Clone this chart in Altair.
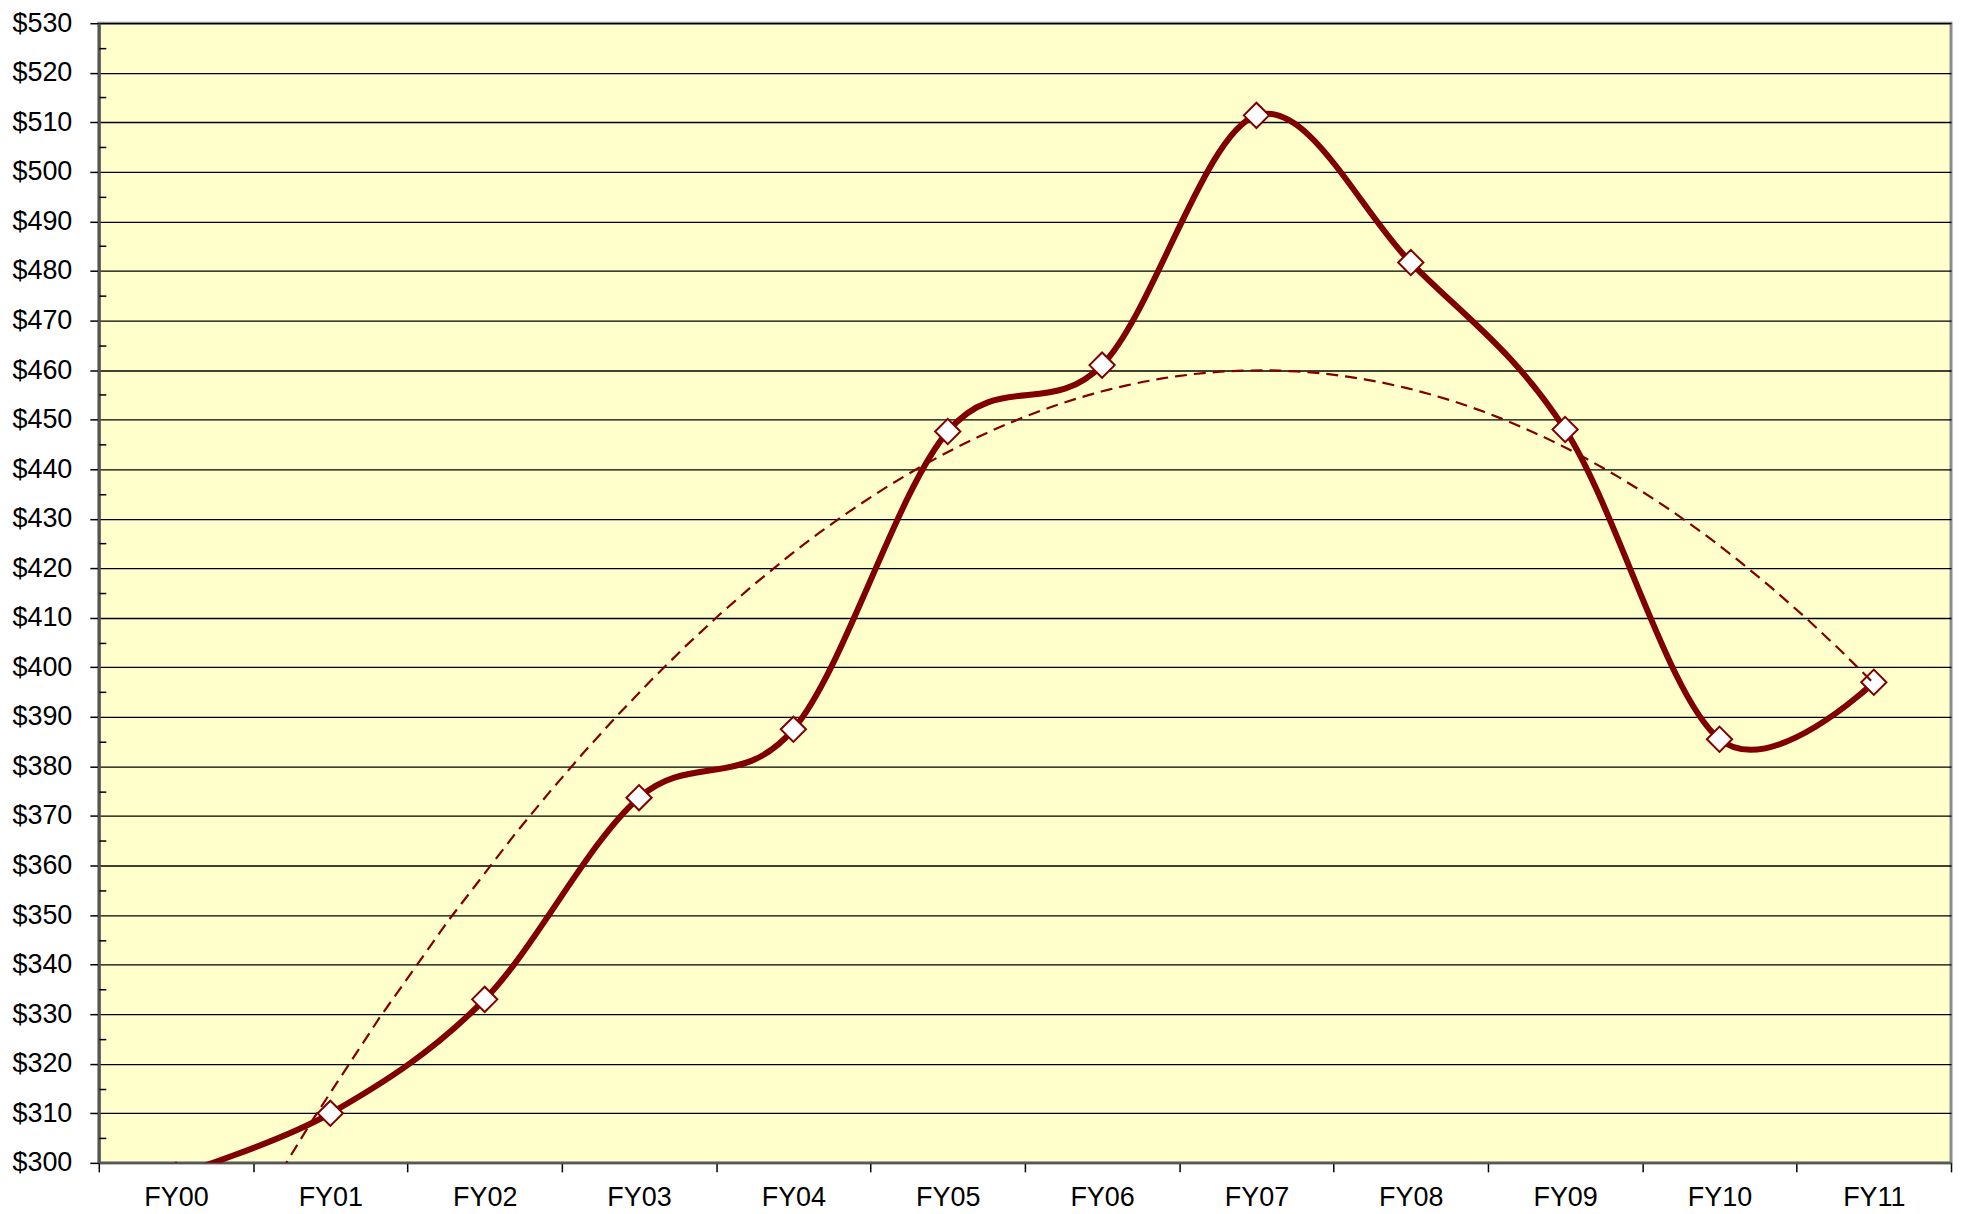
import altair as alt
import pandas as pd

years = ["FY00", "FY01", "FY02", "FY03", "FY04", "FY05",
         "FY06", "FY07", "FY08", "FY09", "FY10", "FY11"]
values = [297.5, 310.0, 333.0, 373.7, 387.5, 447.6,
          461.0, 511.4, 481.7, 448.0, 385.5, 397.0]
major_ticks = list(range(300, 531, 10))
minor_ticks = list(range(305, 530, 10))

df = pd.DataFrame({"fy": years, "idx": list(range(len(years))), "value": values})

W, H = 1856, 1142
MAROON = "#800000"
FONT = "Liberation Sans"

x_band = alt.X(
    "fy:N", sort=years,
    scale=alt.Scale(type="band", paddingInner=0, paddingOuter=0),
    axis=alt.Axis(title=None, labelAngle=0, tickBand="extent", labelFont=FONT,
                  labelFontSize=27, labelColor="black", tickSize=9, tickColor="black",
                  tickWidth=1.5, domainColor="#555555", domainWidth=2, labelPadding=13,
                  grid=False),
)
y_main = alt.Y(
    "value:Q",
    scale=alt.Scale(domain=[300, 530], nice=False, zero=False),
    axis=alt.Axis(title=None, values=major_ticks, format="$d", labelFont=FONT,
                  labelFontSize=27, labelColor="black", labelPadding=18, tickSize=9,
                  tickColor="black", tickWidth=1.5, grid=True, gridColor="black",
                  gridWidth=1.3, domainColor="#555555", domainWidth=3),
)

line = alt.Chart(df).mark_line(
    color=MAROON, strokeWidth=6, interpolate="cardinal", tension=0, clip=True
).encode(x=x_band, y=y_main)

points = alt.Chart(df).mark_point(
    shape="diamond", filled=True, fill="white", stroke=MAROON, strokeWidth=2,
    size=640, fillOpacity=1, strokeOpacity=1, clip=True
).encode(x=x_band, y=y_main)

main = alt.layer(line, points)

trend = alt.Chart(df).transform_regression(
    "idx", "value", method="poly", order=2
).mark_line(
    color=MAROON, strokeWidth=2.2, strokeDash=[12, 7], clip=True
).encode(
    x=alt.X("idx:Q", scale=alt.Scale(domain=[-0.5, len(years) - 0.5], nice=False, zero=False),
            axis=None),
    y=alt.Y("value:Q", scale=alt.Scale(domain=[300, 530], nice=False, zero=False),
            axis=alt.Axis(orient="right", offset=-W, values=minor_ticks, labels=False,
                          domain=False, grid=False, tickSize=7, tickColor="black",
                          tickWidth=1.5, title=None)),
)

chart = alt.layer(main, trend).resolve_scale(x="independent", y="independent").properties(
    width=W, height=H,
    autosize=alt.AutoSizeParams(type="none"),
    padding={"left": 91, "top": 14, "right": 4, "bottom": 52},
    background="white",
).configure_view(fill="#FFFFCC", stroke="#8c8c8c", strokeWidth=3)

chart.save("out.html", embed_options={"renderer": "svg", "actions": False})
